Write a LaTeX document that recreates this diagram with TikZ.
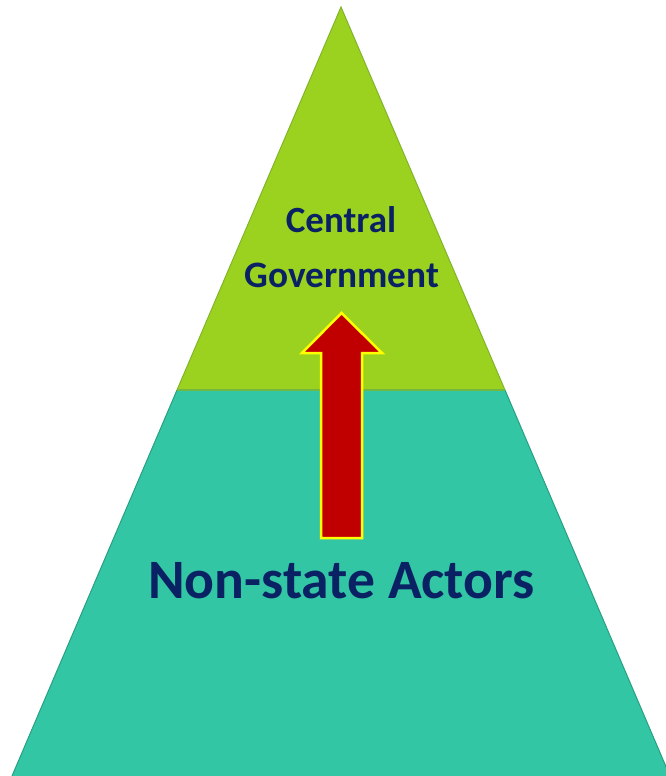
\documentclass[tikz,border=0pt]{standalone}
\usepackage{fontspec}
\setmainfont{Carlito}
\definecolor{topgreen}{RGB}{155,210,32}
\definecolor{topedge}{RGB}{130,180,40}
\definecolor{botteal}{RGB}{50,198,164}
\definecolor{botedge}{RGB}{40,160,130}
\definecolor{navytext}{RGB}{10,34,100}
\definecolor{arrowred}{RGB}{192,0,0}
\definecolor{arrowyellow}{RGB}{255,255,0}
\tikzset{
  px/.style={x=1pt,y=-1pt},
  label/.style={text=navytext,font=\bfseries,inner sep=0pt,anchor=base},
}
\begin{document}
\begin{tikzpicture}[px]
\useasboundingbox (0,0) rectangle (666,776);
\fill[white] (0,0) rectangle (666,776);
\begin{scope}
\clip (0,0) rectangle (666,776);
% bottom layer
\fill[botteal] (177,390) -- (505,390) -- (670,776) -- (12,776) -- cycle;
\draw[botedge,line width=1pt] (177,390) -- (12,776);
\draw[botedge,line width=1pt] (505,390) -- (670,776);
% top layer
\fill[topgreen] (341,7) -- (505,390) -- (177,390) -- cycle;
\draw[topedge,line width=1pt] (177,390) -- (341,7) -- (505,390);
\draw[topedge!80!botteal,line width=1.2pt] (177,390) -- (505,390);
\end{scope}
% arrow
\draw[arrowyellow,line width=2.5pt,fill=arrowred,line join=miter]
  (341.5,313) -- (382,353) -- (362,353) -- (362,538) -- (321,538)
  -- (321,353) -- (302,353) -- cycle;
% texts
\node[label,font=\bfseries\fontsize{37}{44}\selectfont] (central) at (341,232) {Central};
\node[label,font=\bfseries\fontsize{37.3}{44}\selectfont] (gov) at (342,287) {Government};
\node[label,font=\bfseries\fontsize{55.6}{64}\selectfont] (nsa) at (341.5,598) {Non-state Actors};
\end{tikzpicture}
\end{document}
